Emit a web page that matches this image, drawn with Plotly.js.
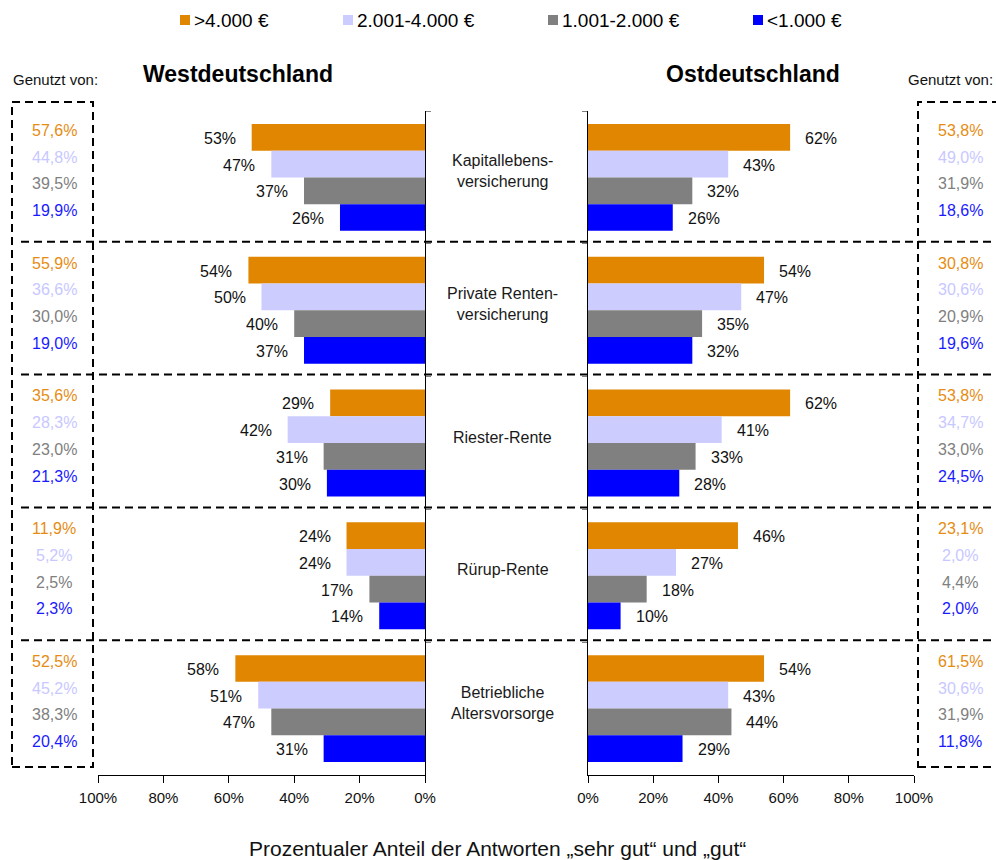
<!DOCTYPE html>
<html>
<head>
<meta charset="utf-8">
<script src="https://cdn.plot.ly/plotly-3.0.1.min.js"></script>
<style>html,body{margin:0;padding:0;background:#fff}#chart{width:996px;height:860px}</style>
</head>
<body>
<div id="chart"></div>
<script>
// ---------- data ----------
const categories = ['Kapitallebens-<br>versicherung', 'Private Renten-<br>versicherung', 'Riester-Rente', 'Rürup-Rente', 'Betriebliche<br>Altersvorsorge'];
const seriesNames = ['>4.000 €', '2.001-4.000 €', '1.001-2.000 €', '<1.000 €'];

// rating share "sehr gut" + "gut" (%)
const westHigh  = [53, 54, 29, 24, 58];
const westUpper = [47, 50, 42, 24, 51];
const westLower = [37, 40, 31, 17, 47];
const westLow   = [26, 37, 30, 14, 31];

const eastHigh  = [62, 54, 62, 46, 54];
const eastUpper = [43, 47, 41, 27, 43];
const eastLower = [32, 35, 33, 18, 44];
const eastLow   = [26, 32, 28, 10, 29];

// "Genutzt von" (%)
const westUseHigh  = [57.6, 55.9, 35.6, 11.9, 52.5];
const westUseUpper = [44.8, 36.6, 28.3, 5.2, 45.2];
const westUseLower = [39.5, 30.0, 23.0, 2.5, 38.3];
const westUseLow   = [19.9, 19.0, 21.3, 2.3, 20.4];

const eastUseHigh  = [53.8, 30.8, 53.8, 23.1, 61.5];
const eastUseUpper = [49.0, 30.6, 34.7, 2.0, 30.6];
const eastUseLower = [31.9, 20.9, 33.0, 4.4, 31.9];
const eastUseLow   = [18.6, 19.6, 24.5, 2.0, 11.8];

const xTicks = [0, 20, 40, 60, 80, 100];
const xTickLabels = ['0%', '20%', '40%', '60%', '80%', '100%'];

// ---------- styling ----------
const W = 996, H = 860;
const px = x => x / W;
const py = y => 1 - y / H;
const FONT = 'Liberation Sans, Arial, Helvetica, sans-serif';
const barColors = ['#E08600', '#CCCCFF', '#808080', '#0000FF'];
const useColors = ['#E68C12', '#C8C8FF', '#808080', '#1A1AFF'];
const BARGAP = 0.195;

const west = [westHigh, westUpper, westLower, westLow];
const east = [eastHigh, eastUpper, eastLower, eastLow];
const westUse = [westUseHigh, westUseUpper, westUseLower, westUseLow];
const eastUse = [eastUseHigh, eastUseUpper, eastUseLower, eastUseLow];

const esc = s => s.replace(/</g, '&lt;').replace(/>/g, '&gt;');
const fmt1 = v => v.toFixed(1).replace('.', ',') + '%';

const traces = [];
for (let j = 0; j < 4; j++) {
  traces.push({type: 'bar', orientation: 'h', name: seriesNames[j], x: west[j], y: categories,
    xaxis: 'x', yaxis: 'y', marker: {color: barColors[j], line: {width: 0}}, showlegend: false, hoverinfo: 'skip'});
}
for (let j = 0; j < 4; j++) {
  traces.push({type: 'bar', orientation: 'h', name: seriesNames[j], x: east[j], y: categories,
    xaxis: 'x2', yaxis: 'y2', marker: {color: barColors[j], line: {width: 0}}, showlegend: false, hoverinfo: 'skip'});
}

const annotations = [];
const offset = j => (j - 1.5) * (1 - BARGAP) / 4;
const txt = (size, color) => ({family: FONT, size: size, color: color});

for (let i = 0; i < categories.length; i++) {
  for (let j = 0; j < 4; j++) {
    annotations.push({xref: 'x', yref: 'y', x: west[j][i], y: i + offset(j), text: west[j][i] + '%',
      xanchor: 'right', yanchor: 'middle', xshift: -14, yshift: -1, showarrow: false, font: txt(16, '#111')});
    annotations.push({xref: 'x2', yref: 'y2', x: east[j][i], y: i + offset(j), text: east[j][i] + '%',
      xanchor: 'left', yanchor: 'middle', xshift: 13, yshift: -1, showarrow: false, font: txt(16, '#111')});
    annotations.push({xref: 'paper', yref: 'y', x: px(54), y: i + offset(j), text: fmt1(westUse[j][i]),
      xanchor: 'center', yanchor: 'middle', yshift: 7, showarrow: false, font: txt(16, useColors[j])});
    annotations.push({xref: 'paper', yref: 'y', x: px(960), y: i + offset(j), text: fmt1(eastUse[j][i]),
      xanchor: 'center', yanchor: 'middle', yshift: 7, showarrow: false, font: txt(16, useColors[j])});
  }
  annotations.push({xref: 'paper', yref: 'y', x: px(503), y: i, text: categories[i],
    xanchor: 'center', yanchor: 'middle', yshift: 6, showarrow: false, font: txt(16, '#1a1a1a')});
}

// titles & side headers
annotations.push({xref: 'paper', yref: 'paper', x: px(238), y: py(74), text: '<b>Westdeutschland</b>',
  xanchor: 'center', yanchor: 'middle', showarrow: false, font: txt(23, '#000')});
annotations.push({xref: 'paper', yref: 'paper', x: px(753), y: py(74), text: '<b>Ostdeutschland</b>',
  xanchor: 'center', yanchor: 'middle', showarrow: false, font: txt(23, '#000')});
annotations.push({xref: 'paper', yref: 'paper', x: px(11), y: py(79), text: 'Genutzt von:',
  xanchor: 'left', yanchor: 'middle', showarrow: false, font: txt(15, '#111')});
annotations.push({xref: 'paper', yref: 'paper', x: px(906), y: py(79), text: 'Genutzt von:',
  xanchor: 'left', yanchor: 'middle', showarrow: false, font: txt(15, '#111')});
annotations.push({xref: 'paper', yref: 'paper', x: px(497), y: py(848), text: 'Prozentualer Anteil der Antworten „sehr gut“ und „gut“',
  xanchor: 'center', yanchor: 'middle', showarrow: false, font: txt(21, '#111')});

// legend (manual)
const legendSq = [180, 343, 548, 753];
const shapes = [];
for (let j = 0; j < 4; j++) {
  shapes.push({type: 'rect', xref: 'paper', yref: 'paper', x0: px(legendSq[j]), x1: px(legendSq[j] + 10),
    y0: py(25), y1: py(15), fillcolor: barColors[j], line: {width: 0}});
  annotations.push({xref: 'paper', yref: 'paper', x: px(legendSq[j] + 12), y: py(20), text: esc(seriesNames[j]),
    xanchor: 'left', yanchor: 'middle', showarrow: false, font: txt(19, '#000')});
}

// dashed separators & boxes
const dash = {color: '#000', width: 2, dash: '8px,5px'};
for (let k = 0; k < categories.length - 1; k++) {
  shapes.push({type: 'line', xref: 'paper', yref: 'y', x0: px(21), x1: 1.01, y0: k + 0.485, y1: k + 0.485, line: dash});
}
shapes.push({type: 'rect', xref: 'paper', yref: 'paper', x0: px(12), x1: px(93), y0: py(767), y1: py(102), line: dash});
shapes.push({type: 'rect', xref: 'paper', yref: 'paper', x0: px(918), x1: px(1010), y0: py(767), y1: py(102), line: dash});

const xCommon = {tickmode: 'array', tickvals: xTicks, ticktext: xTickLabels, showgrid: false, zeroline: false, showline: true,
  linecolor: '#000', linewidth: 1, ticks: 'outside', ticklen: 7, tickcolor: '#000', ticklabelstandoff: 2,
  tickfont: txt(15, '#111'), fixedrange: true};
const yCommon = {type: 'category', categoryorder: 'array', categoryarray: categories, range: [4.5, -0.5],
  domain: [1 - 775 / H, 1 - 111 / H], showline: true, linecolor: '#000', linewidth: 1, ticks: 'outside',
  tickson: 'boundaries', ticklen: 5, tickcolor: '#808080', showticklabels: false, showgrid: false, zeroline: false, fixedrange: true};

const layout = {
  width: W, height: H, margin: {l: 0, r: 0, t: 0, b: 0}, paper_bgcolor: '#fff', plot_bgcolor: 'rgba(0,0,0,0)',
  font: {family: FONT}, showlegend: false, barmode: 'group', bargap: BARGAP, bargroupgap: 0,
  xaxis: Object.assign({}, xCommon, {domain: [px(98), px(425)], range: [100, 0], anchor: 'y'}),
  yaxis: Object.assign({}, yCommon, {side: 'right', anchor: 'x'}),
  xaxis2: Object.assign({}, xCommon, {domain: [px(588), px(914)], range: [0, 100], anchor: 'y2'}),
  yaxis2: Object.assign({}, yCommon, {side: 'left', anchor: 'x2'}),
  annotations: annotations, shapes: shapes
};

Plotly.newPlot('chart', traces, layout, {staticPlot: true, displayModeBar: false});
</script>
</body>
</html>
